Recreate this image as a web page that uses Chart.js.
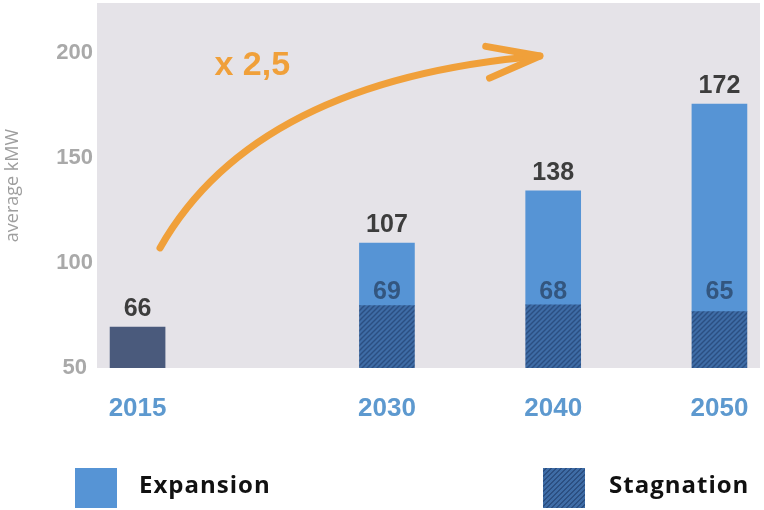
<!DOCTYPE html>
<html>
<head>
<meta charset="utf-8">
<script src="https://cdn.jsdelivr.net/npm/chart.js@4.4.1/dist/chart.umd.min.js"></script>
<style>
  html, body { margin: 0; padding: 0; background: #ffffff; }
  #wrap { position: relative; width: 764px; height: 510px; overflow: hidden; }
  #chart { position: absolute; left: 0; top: 0; }
  .sw { position: absolute; top: 468px; width: 42px; height: 40px; }
  .lt { position: absolute; top: 464px; height: 40px; line-height: 40px; font-family: 'Open Sans', sans-serif;
        font-weight: 700; font-size: 24px; letter-spacing: 1px; color: #111111; white-space: nowrap; }
</style>
</head>
<body>
<div id="wrap">
  <canvas id="chart" width="764" height="510"></canvas>
  <div class="sw" style="left:75px;background:#5694d5;"></div>
  <div class="lt" style="left:139px;">Expansion</div>
  <div class="sw" style="left:543px;background:#3e6ca6 repeating-linear-gradient(135deg,#3e6ca6 0px,#3e6ca6 2px,#2b4f82 2px,#2b4f82 3.5px);"></div>
  <div class="lt" style="left:609px;">Stagnation</div>
</div>
<script>
// ---- data ----
const tickYears = [2015, 2030, 2040, 2050];
const baseYear = [2015];
const baseValue = [69.5];
const futureYears = [2030, 2040, 2050];
const stagnationTop = [79.7, 80, 76.8];
const expansionTop = [109.4, 134.3, 175.5];
const topLabels = ['66', '107', '138', '172'];
const innerLabels = ['69', '68', '65'];
const yTicks = [50, 100, 150, 200];
const yTitle = 'average kMW';
const growthLabel = 'x 2,5';
const growthLabelPos = [2021.9, 194];
const arrowPath = [[2016.35, 107.1], [2022.07, 186.9], [2039.2, 198.4]]; // start, control, tip (data units)
const innerLabelLevel = 83;

// ---- styles ----
const ORANGE = '#f0a03a';
const canvas = document.getElementById('chart');
const ctx = canvas.getContext('2d');

function hatchPattern() {
  const c = document.createElement('canvas');
  c.width = 5; c.height = 5;
  const g = c.getContext('2d');
  g.fillStyle = '#3e6ca6';
  g.fillRect(0, 0, 5, 5);
  g.strokeStyle = '#2b4f82';
  g.lineWidth = 1.4;
  g.beginPath();
  g.moveTo(0, 5); g.lineTo(5, 0);
  g.moveTo(-2.5, 2.5); g.lineTo(2.5, -2.5);
  g.moveTo(2.5, 7.5); g.lineTo(7.5, 2.5);
  g.stroke();
  return ctx.createPattern(c, 'repeat');
}

const plotBg = {
  id: 'plotBg',
  beforeDraw(chart) {
    const a = chart.chartArea, c = chart.ctx;
    c.save();
    c.fillStyle = '#e5e3e8';
    c.fillRect(a.left, a.top, a.right - a.left, a.bottom - a.top);
    c.restore();
  }
};

const labelsAndArrow = {
  id: 'labelsAndArrow',
  afterDatasetsDraw(chart) {
    const c = chart.ctx, xs = chart.scales.x, ys = chart.scales.y;
    c.save();
    // top value labels
    const topVals = baseValue.concat(expansionTop);
    c.font = 'bold 25px "Liberation Sans", Arial, sans-serif';
    c.textAlign = 'center';
    c.textBaseline = 'alphabetic';
    c.fillStyle = '#3d3d3d';
    tickYears.forEach((yr, i) => {
      c.fillText(topLabels[i], xs.getPixelForValue(yr), ys.getPixelForValue(topVals[i]) - 11);
    });
    // inner stagnation labels
    c.fillStyle = '#33567f';
    futureYears.forEach((yr, i) => {
      c.fillText(innerLabels[i], xs.getPixelForValue(yr), ys.getPixelForValue(innerLabelLevel));
    });
    // growth arrow
    const p = arrowPath.map(([x, y]) => [xs.getPixelForValue(x), ys.getPixelForValue(y)]);
    c.strokeStyle = ORANGE;
    c.lineWidth = 7;
    c.lineCap = 'round';
    c.lineJoin = 'round';
    c.beginPath();
    c.moveTo(p[0][0], p[0][1]);
    c.quadraticCurveTo(p[1][0], p[1][1], p[2][0], p[2][1]);
    c.stroke();
    const ang = Math.atan2(p[1][1] - p[2][1], p[1][0] - p[2][0]);
    const L = 55;
    c.beginPath();
    c.moveTo(p[2][0] + L * Math.cos(ang + 0.26), p[2][1] + L * Math.sin(ang + 0.26));
    c.lineTo(p[2][0], p[2][1]);
    c.lineTo(p[2][0] + L * Math.cos(ang - 0.33), p[2][1] + L * Math.sin(ang - 0.33));
    c.stroke();
    // growth label
    c.fillStyle = ORANGE;
    c.font = 'bold 34px "Liberation Sans", Arial, sans-serif';
    c.textBaseline = 'middle';
    c.fillText(growthLabel, xs.getPixelForValue(growthLabelPos[0]), ys.getPixelForValue(growthLabelPos[1]));
    c.restore();
  }
};

const hatch = hatchPattern();

new Chart(ctx, {
  type: 'bar',
  data: {
    datasets: [
      {
        label: '2015',
        data: baseYear.map((x, i) => ({ x: x, y: baseValue[i] })),
        backgroundColor: '#4a5a7c',
        barThickness: 55,
        grouped: false,
        borderWidth: 0
      },
      {
        label: 'Stagnation',
        data: futureYears.map((x, i) => ({ x: x, y: stagnationTop[i] })),
        backgroundColor: hatch,
        barThickness: 55,
        grouped: false,
        borderWidth: 0
      },
      {
        label: 'Expansion',
        data: futureYears.map((x, i) => ({ x: x, y: [stagnationTop[i], expansionTop[i]] })),
        backgroundColor: '#5694d5',
        barThickness: 55,
        grouped: false,
        borderWidth: 0
      }
    ]
  },
  options: {
    responsive: false,
    animation: false,
    events: [],
    layout: { padding: { left: 2, right: 4, top: 3, bottom: 86 } },
    plugins: { legend: { display: false }, tooltip: { enabled: false } },
    scales: {
      x: {
        type: 'linear',
        offset: false,
        min: 2012.56,
        max: 2052.44,
        grid: { display: false, drawTicks: false, offset: false },
        border: { display: false },
        afterBuildTicks(s) { s.ticks = tickYears.map(v => ({ value: v })); },
        afterFit(s) { s.height = 56; s.paddingLeft = 0; s.paddingRight = 0; },
        ticks: {
          padding: 25,
          color: '#5d99cf',
          font: { family: '"Liberation Sans", Arial, sans-serif', weight: 'bold', size: 26 },
          callback: v => String(v)
        }
      },
      y: {
        min: 50,
        max: 223.6,
        grid: { display: false, drawTicks: false },
        border: { display: false },
        afterBuildTicks(s) { s.ticks = yTicks.map(v => ({ value: v })); },
        afterFit(s) { s.width = 95; s.paddingTop = 0; s.paddingBottom = 0; },
        ticks: {
          padding: 4,
          crossAlign: 'center',
          color: '#a9a9a9',
          font: { family: '"Liberation Sans", Arial, sans-serif', weight: 'bold', size: 22 }
        },
        title: {
          display: true,
          text: yTitle,
          color: '#9e9e9e',
          padding: { top: 0, bottom: 0 },
          font: { family: '"Open Sans", sans-serif', size: 18, weight: 'normal' }
        }
      }
    }
  },
  plugins: [plotBg, labelsAndArrow]
});
</script>
</body>
</html>
